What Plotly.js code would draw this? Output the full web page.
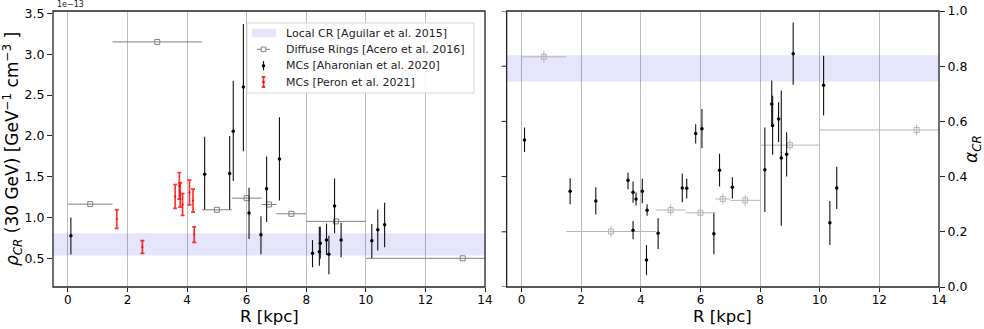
<!DOCTYPE html>
<html>
<head>
<meta charset="utf-8">
<script src="https://cdn.plot.ly/plotly-3.0.1.min.js"></script>
<style>html,body{margin:0;padding:0;background:#fff;}#chart{width:984px;height:329px;}</style>
</head>
<body>
<div id="chart"></div>
<script>
// ---------- Data ----------
// Local CR band (Aguilar et al. 2015)
const bandRhoLo = 0.54, bandRhoHi = 0.81;      // x 1e-13 GeV^-1 cm^-3
const bandAlphaLo = 0.745, bandAlphaHi = 0.84;

// Diffuse rings (Acero et al. 2016)
const ringR    = [0.75, 3.0, 5.0, 6.0, 6.75, 7.5, 9.0, 13.25];
const ringRerr = [0.75, 1.5, 0.5, 0.5, 0.25, 0.5, 1.0, 3.25];
const ringRho  = [1.167, 3.15, 1.098, 1.24, 1.163, 1.049, 0.956, 0.505];
const ringAlpha    = [0.834, 0.201, 0.279, 0.269, 0.319, 0.314, 0.514, 0.569];
const ringAlphaErr = [0.022, 0.021, 0.02, 0.015, 0.02, 0.02, 0.02, 0.02];

// MCs (Aharonian et al. 2020) - density panel
const mcR    = [0.10, 4.59, 5.43, 5.55, 5.89, 6.08, 6.48, 6.67, 7.10, 8.21, 8.44, 8.47, 8.68, 8.76, 8.95, 9.17, 10.20, 10.40, 10.63];
const mcRho  = [0.78, 1.533, 1.54, 2.057, 2.60, 1.06, 0.793, 1.354, 1.72, 0.566, 0.585, 0.69, 0.728, 0.553, 1.143, 0.728, 0.72, 0.854, 0.915];
const mcRhoHi = [1.005, 1.99, 2.0, 2.675, 3.37, 1.366, 1.02, 1.749, 2.228, 0.728, 0.89, 0.89, 0.93, 0.78, 1.48, 0.94, 0.923, 1.102, 1.183];
const mcRhoLo = [0.55, 1.10, 1.10, 1.45, 1.813, 0.74, 0.553, 0.95, 1.212, 0.395, 0.415, 0.50, 0.545, 0.31, 0.81, 0.517, 0.505, 0.60, 0.64];

// MCs (Peron et al. 2021) - density ranges
const peR     = [1.64, 2.50, 3.60, 3.74, 3.77, 3.85, 4.08, 4.20, 4.24];
const peRhoLo = [0.87, 0.566, 1.115, 1.228, 1.13, 1.03, 1.159, 1.07, 0.70];
const peRhoHi = [1.098, 0.72, 1.407, 1.554, 1.427, 1.297, 1.46, 1.35, 0.89];

// MCs - spectral index panel
const aR  = [0.10, 1.63, 2.49, 3.57, 3.74, 3.84, 3.74, 4.05, 4.21, 4.19, 4.58, 5.39, 5.54, 5.84, 6.05, 6.45, 6.64, 7.07, 8.16, 8.39, 8.42, 8.62, 8.71, 8.89, 9.11, 10.13, 10.34, 10.57];
const aVal = [0.533, 0.347, 0.312, 0.387, 0.343, 0.319, 0.206, 0.347, 0.278, 0.098, 0.195, 0.359, 0.358, 0.556, 0.573, 0.193, 0.423, 0.361, 0.425, 0.663, 0.585, 0.609, 0.467, 0.481, 0.845, 0.731, 0.233, 0.359];
const aHi = [0.578, 0.394, 0.361, 0.415, 0.382, 0.342, 0.239, 0.392, 0.30, 0.152, 0.249, 0.411, 0.392, 0.59, 0.645, 0.267, 0.483, 0.398, 0.578, 0.748, 0.693, 0.669, 0.712, 0.561, 0.958, 0.838, 0.312, 0.436];
const aLo = [0.489, 0.30, 0.263, 0.354, 0.305, 0.295, 0.173, 0.303, 0.258, 0.043, 0.138, 0.307, 0.321, 0.52, 0.503, 0.119, 0.364, 0.321, 0.272, 0.58, 0.479, 0.525, 0.222, 0.40, 0.733, 0.621, 0.152, 0.283];

const legendLabels = ['Local CR [Aguilar et al. 2015]', 'Diffuse Rings [Acero et al. 2016]',
                      'MCs [Aharonian et al. 2020]', 'MCs [Peron et al. 2021]'];

const xTicks = [0, 2, 4, 6, 8, 10, 12, 14];
const rhoTicks = [0.5, 1.0, 1.5, 2.0, 2.5, 3.0, 3.5];
const alphaTicks = [0.0, 0.2, 0.4, 0.6, 0.8, 1.0];

const xRange = [-0.5, 14];

// ---------- Traces ----------
const sub = (a, b) => a.map((v, i) => v - b[i]);
const FONT = 'DejaVu Sans, sans-serif';
const BAND = 'rgba(0,0,230,0.1)';

const traces = [
  {
    x: [xRange[0], xRange[1], xRange[1], xRange[0], xRange[0]],
    y: [bandRhoLo, bandRhoLo, bandRhoHi, bandRhoHi, bandRhoLo],
    type: 'scatter', mode: 'none', fill: 'toself',
    fillcolor: BAND, xaxis: 'x', yaxis: 'y', hoverinfo: 'skip'
  },
  {
    x: ringR, y: ringRho, type: 'scatter', mode: 'markers',
    marker: {symbol: 'square-open', size: 5, color: '#808080', line: {width: 1}},
    error_x: {type: 'data', array: ringRerr, visible: true, color: '#808080', thickness: 1, width: 0},
    xaxis: 'x', yaxis: 'y'
  },
  {
    x: mcR, y: mcRho, type: 'scatter', mode: 'markers',
    marker: {symbol: 'circle', size: 3.5, color: 'black'},
    error_y: {type: 'data', symmetric: false, array: sub(mcRhoHi, mcRho), arrayminus: sub(mcRho, mcRhoLo),
              visible: true, color: '#111', thickness: 1.1, width: 0},
    xaxis: 'x', yaxis: 'y'
  },
  {
    x: peR, y: peRhoLo.map((v, i) => (v + peRhoHi[i]) / 2), type: 'scatter', mode: 'markers',
    marker: {symbol: 'circle', size: 2, color: 'red'},
    error_y: {type: 'data', array: peRhoHi.map((v, i) => (v - peRhoLo[i]) / 2),
              visible: true, color: 'rgba(255,0,0,0.8)', thickness: 1.7, width: 2},
    xaxis: 'x', yaxis: 'y'
  },
  // right panel
  {
    x: [xRange[0], xRange[1], xRange[1], xRange[0], xRange[0]],
    y: [bandAlphaLo, bandAlphaLo, bandAlphaHi, bandAlphaHi, bandAlphaLo],
    type: 'scatter', mode: 'none', fill: 'toself',
    fillcolor: BAND, xaxis: 'x2', yaxis: 'y2', hoverinfo: 'skip'
  },
  {
    x: ringR, y: ringAlpha, type: 'scatter', mode: 'markers',
    marker: {symbol: 'square-open', size: 5, color: '#b4b4b4', line: {width: 1}},
    error_x: {type: 'data', array: ringRerr, visible: true, color: '#b4b4b4', thickness: 1, width: 0},
    error_y: {type: 'data', array: ringAlphaErr, visible: true, color: '#b4b4b4', thickness: 1, width: 0},
    xaxis: 'x2', yaxis: 'y2'
  },
  {
    x: aR, y: aVal, type: 'scatter', mode: 'markers',
    marker: {symbol: 'circle', size: 3.5, color: 'black'},
    error_y: {type: 'data', symmetric: false, array: sub(aHi, aVal), arrayminus: sub(aVal, aLo),
              visible: true, color: '#111', thickness: 1.1, width: 0},
    xaxis: 'x2', yaxis: 'y2'
  }
];

// ---------- Manual legend (pixel positions -> paper coords) ----------
const M = {l: 53, r: 45, t: 11, b: 42};
const PW = 984 - M.l - M.r, PH = 329 - M.t - M.b;
const X = px => (px - M.l) / PW;
const Y = py => (329 - M.b - py) / PH;
const rowY = [33, 49.3, 65.7, 82];
const symX = 263.5;
const P = {xref: 'paper', yref: 'paper', layer: 'above'};
const shapes = [
  // panel frames
  {type: 'rect', xref: 'x domain', yref: 'y domain', x0: 0, x1: 1, y0: 0, y1: 1,
   line: {color: '#222', width: 1.3}, fillcolor: 'rgba(0,0,0,0)', layer: 'above'},
  {type: 'rect', xref: 'x2 domain', yref: 'y2 domain', x0: 0, x1: 1, y0: 0, y1: 1,
   line: {color: '#222', width: 1.3}, fillcolor: 'rgba(0,0,0,0)', layer: 'above'},
  // legend box
  Object.assign({type: 'rect', x0: X(247), x1: X(474), y0: Y(93), y1: Y(23),
    fillcolor: 'rgba(255,255,255,0.85)', line: {color: '#d4d4d4', width: 1}}, P),
  // Local CR patch
  Object.assign({type: 'rect', x0: X(252), x1: X(276), y0: Y(rowY[0] + 4.2), y1: Y(rowY[0] - 4.2),
    fillcolor: BAND, line: {width: 0}}, P),
  // Diffuse rings symbol
  Object.assign({type: 'line', x0: X(257), x1: X(270), y0: Y(rowY[1]), y1: Y(rowY[1]),
    line: {color: '#808080', width: 1}}, P),
  Object.assign({type: 'rect', x0: X(symX - 2.3), x1: X(symX + 2.3), y0: Y(rowY[1] + 2.3), y1: Y(rowY[1] - 2.3),
    fillcolor: '#fff', line: {color: '#808080', width: 1}}, P),
  // Aharonian symbol
  Object.assign({type: 'line', x0: X(symX), x1: X(symX), y0: Y(rowY[2] + 4.6), y1: Y(rowY[2] - 4.6),
    line: {color: '#111', width: 1.2}}, P),
  Object.assign({type: 'circle', x0: X(symX - 1.7), x1: X(symX + 1.7), y0: Y(rowY[2] + 1.7), y1: Y(rowY[2] - 1.7),
    fillcolor: '#000', line: {width: 0}}, P),
  // Peron symbol
  Object.assign({type: 'line', x0: X(symX), x1: X(symX), y0: Y(rowY[3] + 5), y1: Y(rowY[3] - 5),
    line: {color: 'rgba(255,0,0,0.8)', width: 1.6}}, P),
  Object.assign({type: 'line', x0: X(symX - 1.8), x1: X(symX + 1.8), y0: Y(rowY[3] + 5), y1: Y(rowY[3] + 5),
    line: {color: 'red', width: 1.6}}, P),
  Object.assign({type: 'line', x0: X(symX - 1.8), x1: X(symX + 1.8), y0: Y(rowY[3] - 5), y1: Y(rowY[3] - 5),
    line: {color: 'red', width: 1.6}}, P),
  Object.assign({type: 'circle', x0: X(symX - 1.3), x1: X(symX + 1.3), y0: Y(rowY[3] + 1.3), y1: Y(rowY[3] - 1.3),
    fillcolor: 'red', line: {width: 0}}, P)
].concat(alphaTicks.map(v => ({
  // tick marks on the left side of the right panel (labels are on the right)
  type: 'line', xref: 'x2 domain', yref: 'y2', xsizemode: 'pixel', xanchor: 0, x0: -5, x1: 0,
  y0: v, y1: v, line: {color: '#222', width: 1}, layer: 'above'
})));

const annotations = [
  {text: '1e−13', xref: 'paper', yref: 'paper', x: 0.002, y: 1.0, xanchor: 'left', yanchor: 'bottom',
   showarrow: false, font: {family: FONT, size: 8, color: '#222'}},
  {text: 'R [kpc]', xref: 'x domain', yref: 'paper', x: 0.5, y: Y(316), xanchor: 'center', yanchor: 'middle',
   showarrow: false, font: {family: FONT, size: 16.5, color: '#000'}},
  {text: 'R [kpc]', xref: 'x2 domain', yref: 'paper', x: 0.5, y: Y(316), xanchor: 'center', yanchor: 'middle',
   showarrow: false, font: {family: FONT, size: 16.5, color: '#000'}}
].concat(legendLabels.map((t, i) => ({
  text: t, xref: 'paper', yref: 'paper', x: X(284), y: Y(rowY[i]), xanchor: 'left', yanchor: 'middle',
  showarrow: false, font: {family: FONT, size: 11, color: '#222'}
})));

const axisCommon = {
  showline: false, mirror: false,
  ticks: 'outside', ticklen: 5, tickwidth: 1, tickcolor: '#222',
  tickfont: {family: FONT, size: 12.5, color: '#000'},
  zeroline: false
};

const layout = {
  width: 984, height: 329,
  margin: M,
  paper_bgcolor: '#fff', plot_bgcolor: '#fff',
  font: {family: FONT, color: '#000'},
  showlegend: false,
  xaxis: Object.assign({}, axisCommon, {
    domain: [0, 0.4876], range: xRange, anchor: 'y', ticklen: 4, ticklabelstandoff: -2,
    tickfont: {family: FONT, size: 12, color: '#000'},
    tickvals: xTicks, ticktext: xTicks.map(String),
    showgrid: true, gridcolor: '#bcbcbc', gridwidth: 1
  }),
  yaxis: Object.assign({}, axisCommon, {
    domain: [0, 1], range: [0.154, 3.528], anchor: 'x',
    tickvals: rhoTicks, ticktext: rhoTicks.map(v => v.toFixed(1)),
    showgrid: false,
    title: {text: '<i>ρ</i><sub><i>CR</i></sub> (30 GeV) [GeV<sup>−1</sup> cm<sup>−3</sup> ]', font: {family: FONT, size: 17}, standoff: 6}
  }),
  xaxis2: Object.assign({}, axisCommon, {
    domain: [0.512, 1], range: xRange, anchor: 'y2', ticklen: 4, ticklabelstandoff: -2,
    tickfont: {family: FONT, size: 12, color: '#000'},
    tickvals: xTicks, ticktext: xTicks.map(String),
    showgrid: true, gridcolor: '#bcbcbc', gridwidth: 1
  }),
  yaxis2: Object.assign({}, axisCommon, {
    domain: [0, 1], range: [0, 1.0], anchor: 'x2', side: 'right',
    tickvals: alphaTicks, ticktext: alphaTicks.map(v => v.toFixed(1)),
    showgrid: false,
    title: {text: '<i>α<sub>CR</sub></i>', font: {family: FONT, size: 17}, standoff: 4}
  }),
  shapes: shapes,
  annotations: annotations
};

Plotly.newPlot('chart', traces, layout, {displayModeBar: false, staticPlot: true});
</script>
</body>
</html>
